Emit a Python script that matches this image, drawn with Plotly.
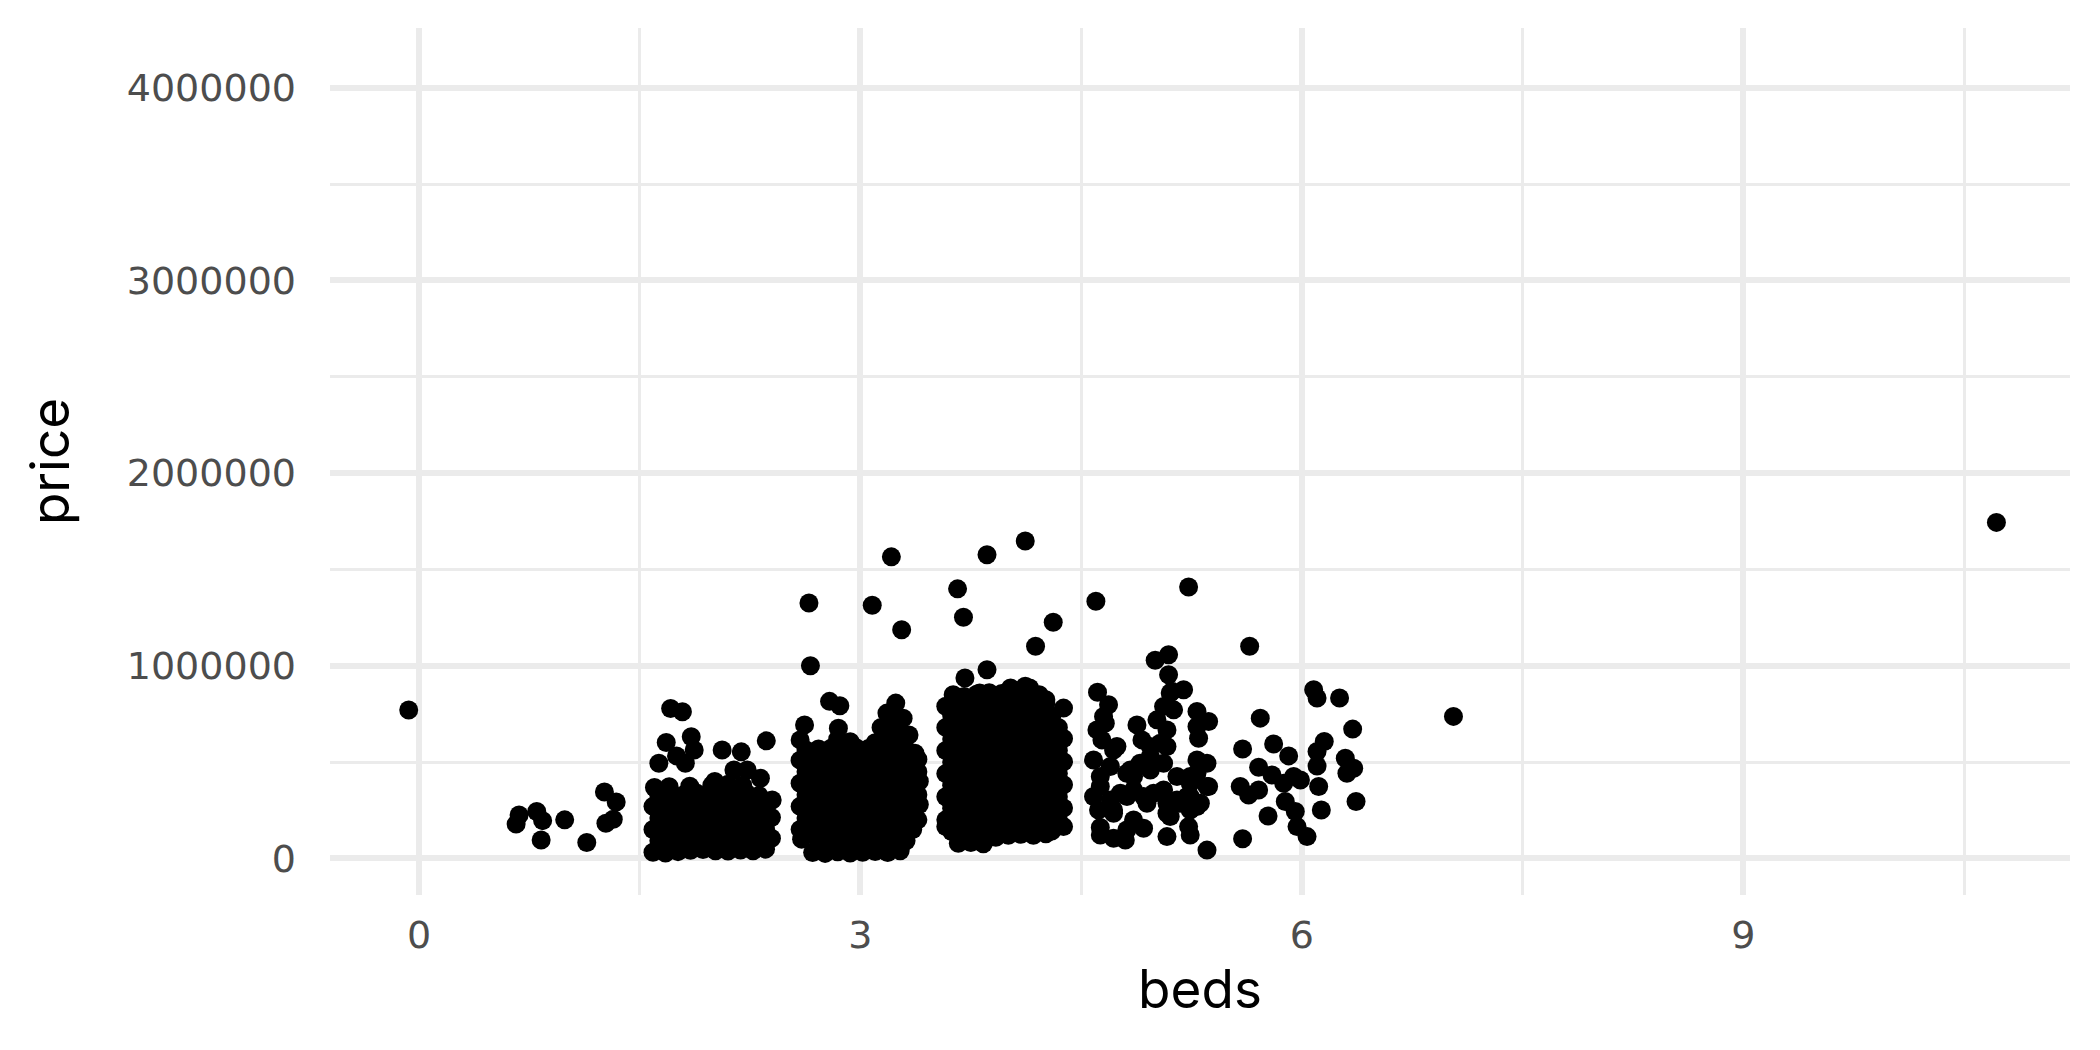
import plotly.graph_objects as go

# beds (jittered) and price in thousands
LOOSE_LOW = [
    (-0.07, 770), (0.68, 225), (0.66, 178), (0.80, 243), (0.84, 196), (0.83, 95),
    (0.99, 200), (1.14, 82), (1.26, 345), (1.34, 293), (1.27, 182), (1.32, 203),
]

BEDS_2 = [
    (1.71, 778), (1.79, 761), (1.68, 602), (1.85, 631), (1.87, 563), (1.75, 532),
    (1.81, 494), (1.63, 494), (2.06, 563), (2.19, 553), (2.36, 610), (2.14, 459),
    (2.23, 459), (2.32, 416), (2.01, 399), (2.40, 303),
    (1.59, 32), (1.675, 28), (1.76, 35), (1.845, 42), (1.93, 46), (2.015, 40),
    (2.10, 38), (2.185, 44), (2.27, 40), (2.355, 48),
    (1.63, 92), (1.715, 88), (1.80, 95), (1.885, 90), (1.97, 100), (2.055, 104),
    (2.14, 96), (2.225, 98), (2.31, 92), (2.395, 105),
    (1.59, 150), (1.675, 155), (1.76, 148), (1.845, 152), (1.93, 160), (2.015, 150),
    (2.10, 146), (2.185, 156), (2.27, 150), (2.355, 152),
    (1.63, 210), (1.715, 215), (1.80, 206), (1.885, 212), (1.97, 218), (2.055, 208),
    (2.14, 214), (2.225, 210), (2.31, 216), (2.395, 212),
    (1.59, 270), (1.675, 266), (1.76, 274), (1.845, 270), (1.93, 262), (2.015, 272),
    (2.10, 268), (2.185, 276), (2.27, 270), (2.355, 268),
    (1.63, 328), (1.715, 335), (1.80, 330), (1.885, 340), (1.97, 332), (2.055, 336),
    (2.14, 330), (2.225, 338), (2.31, 326),
    (1.60, 368), (1.70, 372), (1.84, 375), (1.99, 380), (2.10, 385), (2.20, 378),
]

BEDS_3 = [
    (2.65, 1326), (2.66, 1000), (3.21, 1565), (3.08, 1314), (3.28, 1187),
    (2.62, 693), (2.59, 615), (2.79, 815), (2.86, 792), (2.85, 676),
    (3.24, 806), (3.18, 754), (3.29, 728), (3.37, 546),
    (2.675, 30), (2.76, 26), (2.845, 34), (2.93, 28), (3.015, 32), (3.10, 36),
    (3.185, 30), (3.27, 40),
    (2.60, 100), (2.715, 88), (2.80, 92), (2.885, 86), (2.97, 94), (3.055, 90),
    (3.14, 88), (3.225, 95), (3.31, 92),
    (2.59, 150), (2.675, 148), (2.76, 152), (2.845, 150), (2.93, 146), (3.015, 154),
    (3.10, 150), (3.185, 148), (3.27, 152), (3.355, 150),
    (2.63, 210), (2.715, 212), (2.80, 206), (2.885, 214), (2.97, 210), (3.055, 208),
    (3.14, 212), (3.225, 210), (3.31, 214), (3.39, 200),
    (2.59, 270), (2.675, 268), (2.76, 272), (2.845, 266), (2.93, 270), (3.015, 274),
    (3.10, 268), (3.185, 270), (3.27, 272), (3.355, 266), (3.40, 280),
    (2.63, 330), (2.715, 332), (2.80, 328), (2.885, 334), (2.97, 330), (3.055, 326),
    (3.14, 332), (3.225, 330), (3.31, 334), (3.39, 330),
    (2.59, 390), (2.675, 388), (2.76, 392), (2.845, 386), (2.93, 390), (3.015, 394),
    (3.10, 388), (3.185, 390), (3.27, 392), (3.355, 386), (3.40, 400),
    (2.63, 450), (2.715, 452), (2.80, 448), (2.885, 454), (2.97, 450), (3.055, 446),
    (3.14, 452), (3.225, 450), (3.31, 454), (3.39, 450),
    (2.59, 510), (2.675, 508), (2.76, 512), (2.845, 506), (2.93, 510), (3.015, 514),
    (3.10, 508), (3.185, 510), (3.27, 512), (3.355, 506), (3.39, 515),
    (2.63, 562), (2.715, 568), (2.80, 572), (2.885, 566), (2.97, 574), (3.055, 570),
    (3.14, 568), (3.225, 572), (3.31, 566),
    (2.845, 618), (2.93, 605), (3.10, 600), (3.185, 632), (3.27, 628), (3.33, 640),
    (3.14, 680), (3.225, 690), (3.26, 700),
]

BEDS_4 = [
    (3.66, 1399), (3.70, 1252), (3.86, 1576), (4.12, 1647), (4.31, 1226), (4.19, 1101),
    (3.63, 849), (3.71, 936), (3.86, 979), (3.81, 858), (3.93, 841), (4.02, 884),
    (4.12, 893), (4.15, 884), (4.26, 823), (4.38, 780), (4.27, 745),
    (3.665, 78), (3.75, 82), (3.835, 76), (3.92, 110), (4.005, 120), (4.09, 125),
    (4.175, 120), (4.26, 128),
    (3.58, 165), (3.62, 140), (3.705, 138), (3.79, 142), (3.875, 136), (3.96, 140),
    (4.045, 144), (4.13, 138), (4.215, 140), (4.30, 142), (4.38, 165),
    (3.58, 200), (3.665, 198), (3.75, 204), (3.835, 200), (3.92, 196), (4.005, 202),
    (4.09, 200), (4.175, 198), (4.26, 204), (4.345, 200),
    (3.62, 260), (3.705, 262), (3.79, 258), (3.875, 260), (3.96, 264), (4.045, 256),
    (4.13, 262), (4.215, 260), (4.30, 258), (4.38, 262),
    (3.58, 320), (3.665, 318), (3.75, 322), (3.835, 320), (3.92, 316), (4.005, 324),
    (4.09, 320), (4.175, 318), (4.26, 322), (4.345, 320),
    (3.62, 380), (3.705, 382), (3.79, 378), (3.875, 380), (3.96, 384), (4.045, 376),
    (4.13, 382), (4.215, 380), (4.30, 378), (4.38, 382),
    (3.58, 440), (3.665, 438), (3.75, 442), (3.835, 440), (3.92, 436), (4.005, 444),
    (4.09, 440), (4.175, 438), (4.26, 442), (4.345, 440),
    (3.62, 500), (3.705, 502), (3.79, 498), (3.875, 500), (3.96, 504), (4.045, 496),
    (4.13, 502), (4.215, 500), (4.30, 498), (4.38, 502),
    (3.58, 560), (3.665, 558), (3.75, 562), (3.835, 560), (3.92, 556), (4.005, 564),
    (4.09, 560), (4.175, 558), (4.26, 562), (4.345, 560),
    (3.62, 620), (3.705, 622), (3.79, 618), (3.875, 620), (3.96, 624), (4.045, 616),
    (4.13, 622), (4.215, 620), (4.30, 618), (4.38, 622),
    (3.58, 680), (3.665, 678), (3.75, 682), (3.835, 680), (3.92, 676), (4.005, 684),
    (4.09, 680), (4.175, 678), (4.26, 682), (4.345, 680),
    (3.62, 740), (3.705, 742), (3.79, 738), (3.875, 740), (3.96, 744), (4.045, 736),
    (4.13, 742), (4.215, 740), (4.30, 738),
    (3.58, 790), (3.665, 800), (3.75, 804), (3.835, 800), (3.92, 796), (4.005, 804),
    (4.09, 800), (4.175, 798), (4.26, 805),
    (3.705, 840), (3.79, 852), (3.875, 860), (3.96, 856), (4.045, 862), (4.13, 858),
    (4.215, 850),
]

BEDS_5 = [
    (4.60, 1335), (5.23, 1409), (5.003, 1028), (5.094, 1057), (5.094, 953), (5.105, 858),
    (5.196, 875), (5.117, 867), (5.06, 789), (5.128, 771), (5.015, 719), (4.879, 693),
    (5.083, 667), (5.083, 581), (5.037, 598), (4.97, 581), (4.913, 615),
    (5.287, 763), (5.366, 711), (5.287, 685), (5.298, 624),
    (4.611, 862), (4.686, 797), (4.652, 737), (4.607, 667), (4.641, 615), (4.664, 702),
    (4.584, 511), (4.698, 477), (4.63, 425), (4.743, 581), (4.834, 459), (4.90, 494),
    (4.97, 529), (5.06, 494), (4.97, 459), (4.72, 563), (4.81, 442), (4.856, 425),
    (5.287, 511), (5.355, 494), (5.241, 425), (5.151, 425), (5.241, 390), (5.366, 373),
    (5.287, 442),
    (4.584, 321), (4.618, 251), (4.72, 251), (4.811, 321), (4.856, 355), (4.947, 286),
    (5.06, 355), (5.083, 286), (5.105, 217), (5.196, 286), (5.287, 269), (5.355, 373),
    (5.241, 321), (4.63, 373), (4.70, 303), (4.766, 338), (4.924, 321), (4.992, 338),
    (5.151, 303), (5.219, 321), (5.31, 286), (5.17, 286), (4.856, 199), (5.083, 234),
    (5.241, 251), (4.72, 234),
    (4.63, 121), (4.72, 104), (4.80, 95), (4.924, 156), (5.083, 113), (5.23, 165),
    (5.241, 121), (5.355, 43), (4.63, 160), (4.81, 147),
]

BEDS_6_UP = [
    (5.645, 1101), (5.597, 568), (5.717, 728), (5.808, 594), (5.91, 532), (5.706, 473),
    (5.581, 373), (5.638, 329), (5.706, 355), (5.797, 433), (5.876, 390), (5.944, 425),
    (5.99, 407), (5.887, 295), (5.955, 243), (5.967, 165), (6.035, 113), (5.77, 220),
    (5.597, 102), (6.08, 875), (6.103, 832), (6.256, 832), (6.345, 671), (6.152, 607),
    (6.103, 555), (6.103, 480), (6.295, 520), (6.352, 468), (6.306, 442), (6.114, 373),
    (6.132, 251), (6.368, 295), (7.03, 737), (10.72, 1744),
]

X_TICKS = [0, 3, 6, 9]
Y_TICKS = [0, 1000000, 2000000, 3000000, 4000000]

GRID = "#EBEBEB"
TICK_GREY = "#4D4D4D"

points = LOOSE_LOW + BEDS_2 + BEDS_3 + BEDS_4 + BEDS_5 + BEDS_6_UP
beds = [p[0] for p in points]
price = [p[1] * 1000 for p in points]

fig = go.Figure(
    go.Scatter(
        x=beds,
        y=price,
        mode="markers",
        marker=dict(color="black", size=19, line=dict(width=0)),
        hovertemplate="beds %{x:.2f}<br>price %{y:,.0f}<extra></extra>",
    )
)

# page body adds an 8px margin, so the figure is sized to fit inside the window
fig.update_layout(
    width=2092,
    height=1042,
    margin=dict(l=322, r=30, t=20, b=155),
    plot_bgcolor="white",
    paper_bgcolor="white",
    showlegend=False,
    font=dict(family="Inter, Noto Sans, sans-serif", color="black"),
    xaxis=dict(
        range=[-0.605, 11.22],
        tickvals=X_TICKS,
        ticktext=[str(v) for v in X_TICKS],
        showgrid=True,
        gridcolor=GRID,
        gridwidth=5.5,
        zeroline=False,
        showline=False,
        ticks="",
        ticklabelstandoff=14,
        tickfont=dict(family="DejaVu Sans", size=38, color=TICK_GREY),
        minor=dict(dtick=1.5, tick0=0, showgrid=True, gridcolor=GRID, gridwidth=3),
        title=dict(text="beds", font=dict(size=53, color="black"), standoff=14),
        automargin=False,
    ),
    yaxis=dict(
        range=[-190000, 4310000],
        tickvals=Y_TICKS,
        ticktext=[str(v) for v in Y_TICKS],
        showgrid=True,
        gridcolor=GRID,
        gridwidth=5.5,
        zeroline=False,
        showline=False,
        ticks="",
        ticklabelstandoff=33,
        tickfont=dict(family="DejaVu Sans", size=38, color=TICK_GREY),
        minor=dict(dtick=500000, tick0=0, showgrid=True, gridcolor=GRID, gridwidth=3),
        title=dict(text="price", font=dict(size=53, color="black"), standoff=40),
        automargin=False,
    ),
)

fig.write_html("out.html")
